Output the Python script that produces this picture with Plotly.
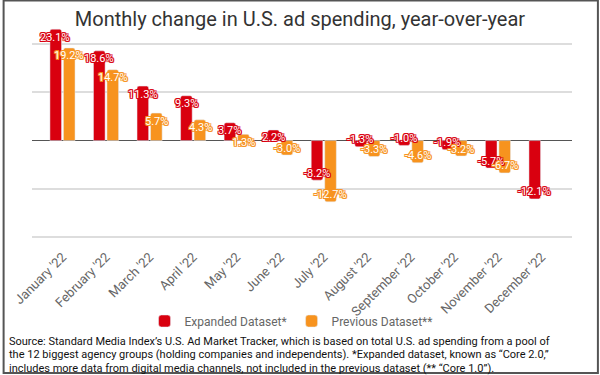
import plotly.graph_objects as go

months = ["January '22", "February '22", "March '22", "April '22", "May '22", "June '22",
          "July '22", "August '22", "September '22", "October '22", "November '22", "December '22"]
expanded = [23.1, 18.6, 11.3, 9.3, 3.7, 2.2, -8.2, -1.3, -1.0, -1.9, -5.7, -12.1]
previous = [19.2, 14.7, 5.7, 4.3, 1.3, -3.0, -12.7, -3.3, -4.6, -3.2, -6.7, None]
source_lines = [
    "Source: Standard Media Index’s U.S. Ad Market Tracker, which is based on total U.S. ad spending from a pool of",
    "the 12 biggest agency groups (holding companies and independents). *Expanded dataset, known as “Core 2.0,”",
    "includes more data from digital media channels, not included in the previous dataset (** “Core 1.0”).",
]

RED = "#d9000f"
ORANGE = "#f7931e"

W, H = 600, 375
PX_PER_UNIT = 193 / 40.0
YMAX = 25.0
YMIN = -20.4
ML, MR = 30, 28
MT = int(round(44 - (YMAX - 20) * PX_PER_UNIT))
MB = int(round(H - (237 + (-20 - YMIN) * PX_PER_UNIT)))
PW, PH = W - ML - MR, H - MT - MB

def px_x(px):
    return (px - ML) / PW

def px_y(py):
    return (H - MB - py) / PH

fig = go.Figure()
fig.add_trace(go.Bar(name="Expanded Dataset*", x=months, y=expanded,
                     marker=dict(color=RED, cornerradius=2)))
fig.add_trace(go.Bar(name="Previous Dataset**", x=months, y=previous,
                     marker=dict(color=ORANGE, cornerradius=2)))

def outline(c):
    return ", ".join(f"{dx}px {dy}px 0 {c}" for dx, dy in
                     [(1, 0), (-1, 0), (0, 1), (0, -1), (1, 1), (-1, -1), (1, -1), (-1, 1)])

annotations = []
for vals, col, xs in [(expanded, RED, -7), (previous, ORANGE, 7)]:
    for m, v in zip(months, vals):
        if v is None:
            continue
        annotations.append(dict(
            x=m, y=v, xref="x", yref="y", text=f"{v:.1f}%", showarrow=False,
            xshift=xs, yshift=-8 if v > 0 else 7,
            font=dict(family="Roboto", size=11, color="white", shadow=outline(col))))

for i, line in enumerate(source_lines):
    annotations.append(dict(
        xref="paper", yref="paper", x=px_x(5), y=px_y(341 + 13.5 * i), xanchor="left", yanchor="middle",
        align="left", showarrow=False, text=line,
        font=dict(family="Roboto", size=11, color="#111")))

fig.update_layout(
    width=W, height=H,
    margin=dict(l=ML, r=MR, t=MT, b=MB),
    paper_bgcolor="white", plot_bgcolor="white",
    title=dict(text="Monthly change in U.S. ad spending, year-over-year",
               x=0.5, xanchor="center", y=1 - 19 / H, yanchor="middle",
               font=dict(family="Roboto", size=20, color="#333")),
    barmode="group", bargap=0.38, bargroupgap=0.14,
    showlegend=True,
    legend=dict(orientation="h", x=px_x(290), xanchor="center", y=px_y(321), yanchor="middle",
                bgcolor="rgba(0,0,0,0)",
                font=dict(family="Roboto", size=12, color="#666"), itemwidth=30),
    xaxis=dict(range=[-0.7, 11.7], tickangle=-45, showgrid=False, ticks="",
               ticklabelstandoff=7,
               tickfont=dict(family="Roboto", size=13, color="#666")),
    yaxis=dict(range=[YMIN, YMAX], tickvals=[-20, -10, 0, 10, 20], showticklabels=False,
               gridcolor="#dddddd", gridwidth=1.5,
               zeroline=True, zerolinecolor="#555", zerolinewidth=1),
    annotations=annotations,
    shapes=[dict(type="rect", xref="paper", yref="paper",
                 x0=px_x(1.5), x1=px_x(598), y0=px_y(373), y1=px_y(0.5),
                 line=dict(color="#555", width=2), layer="above")],
)

fig.write_html("out.html", config={"displayModeBar": False},
               post_script="document.body.style.margin='0px';document.body.style.overflow='hidden';")
